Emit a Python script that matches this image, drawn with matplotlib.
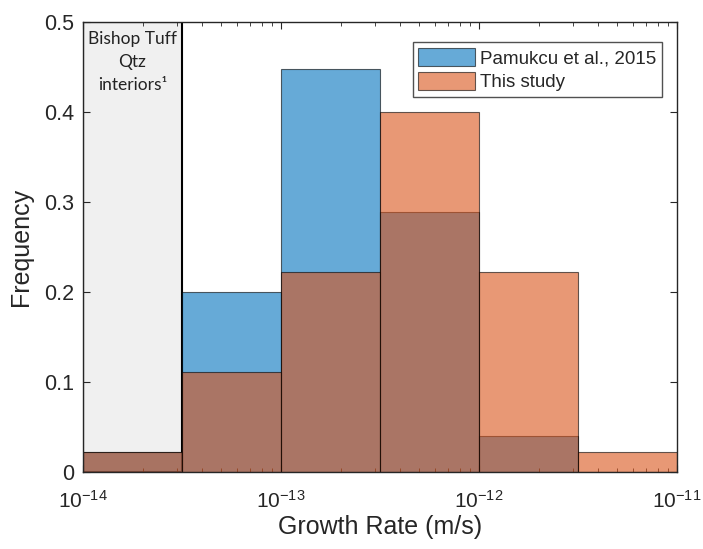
import numpy as np
import matplotlib
matplotlib.use("Agg")
import matplotlib.pyplot as plt
from matplotlib.patches import Rectangle

plt.rcParams['font.family'] = ['Liberation Sans', 'DejaVu Sans']

# bin edges (log10 of growth rate, m/s)
edges_log = [-14, -13.5, -13, -12.5, -12, -11.5, -11]
pamukcu = [0.022, 0.2, 0.448, 0.289, 0.04, 0.0]
this_study = [0.022, 0.111, 0.222, 0.4, 0.222, 0.022]

edges = 10.0 ** np.array(edges_log)
left = edges[:-1]
widths = np.diff(edges)

blue = (0.0, 0.447, 0.741)
orange = (0.85, 0.325, 0.098)
txtcol = (0.15, 0.15, 0.15)

fig = plt.figure(figsize=(7.03, 5.49), dpi=100)
ax = fig.add_axes([0.118, 0.140, 0.845, 0.820])

# shaded region for Bishop Tuff interiors
ax.add_patch(Rectangle((edges[0], 0), edges[1] - edges[0], 0.5,
                       facecolor='#f0f0f0', edgecolor='black', lw=1.5, zorder=0))
ax.text(np.sqrt(edges[0] * edges[1]), 0.49, 'Bishop Tuff\nQtz\ninteriors\u00b9',
        ha='center', va='top', fontsize=12.5, family=['Lato', 'DejaVu Sans'],
        color='#222222', linespacing=1.55, zorder=3)

ax.bar(left, pamukcu, width=widths, align='edge', color=blue, alpha=0.6,
       edgecolor='black', lw=0.8, label='Pamukcu et al., 2015', zorder=1)
ax.bar(left, this_study, width=widths, align='edge', color=orange, alpha=0.6,
       edgecolor='black', lw=0.8, label='This study', zorder=2)

ax.set_xscale('log')
ax.set_xlim(1e-14, 1e-11)
ax.set_ylim(0, 0.5)
ax.set_yticks([0, 0.1, 0.2, 0.3, 0.4, 0.5])
ax.set_yticklabels(['0', '0.1', '0.2', '0.3', '0.4', '0.5'])

ax.tick_params(which='both', direction='in', top=True, right=True,
               labelsize=15.5, colors=txtcol)
ax.tick_params(axis='y', pad=6)
ax.tick_params(axis='x', pad=13, labelsize=15)
ax.tick_params(which='major', length=5)
ax.tick_params(which='minor', length=3)
for s in ax.spines.values():
    s.set_color(txtcol)
    s.set_linewidth(1.0)

ax.set_xlabel('Growth Rate (m/s)', fontsize=18, color=txtcol, labelpad=2)
ax.set_ylabel('Frequency', fontsize=18, color=txtcol, labelpad=8)

leg = ax.legend(loc='upper right', bbox_to_anchor=(0.975, 0.955), fontsize=13.5,
                frameon=True, fancybox=False, edgecolor=txtcol,
                handlelength=3.0, handleheight=1.1, borderpad=0.3,
                labelspacing=0.25, handletextpad=0.3, borderaxespad=0)
leg.get_frame().set_linewidth(1.0)
for t in leg.get_texts():
    t.set_color(txtcol)

fig.savefig('out.png', dpi=100)
